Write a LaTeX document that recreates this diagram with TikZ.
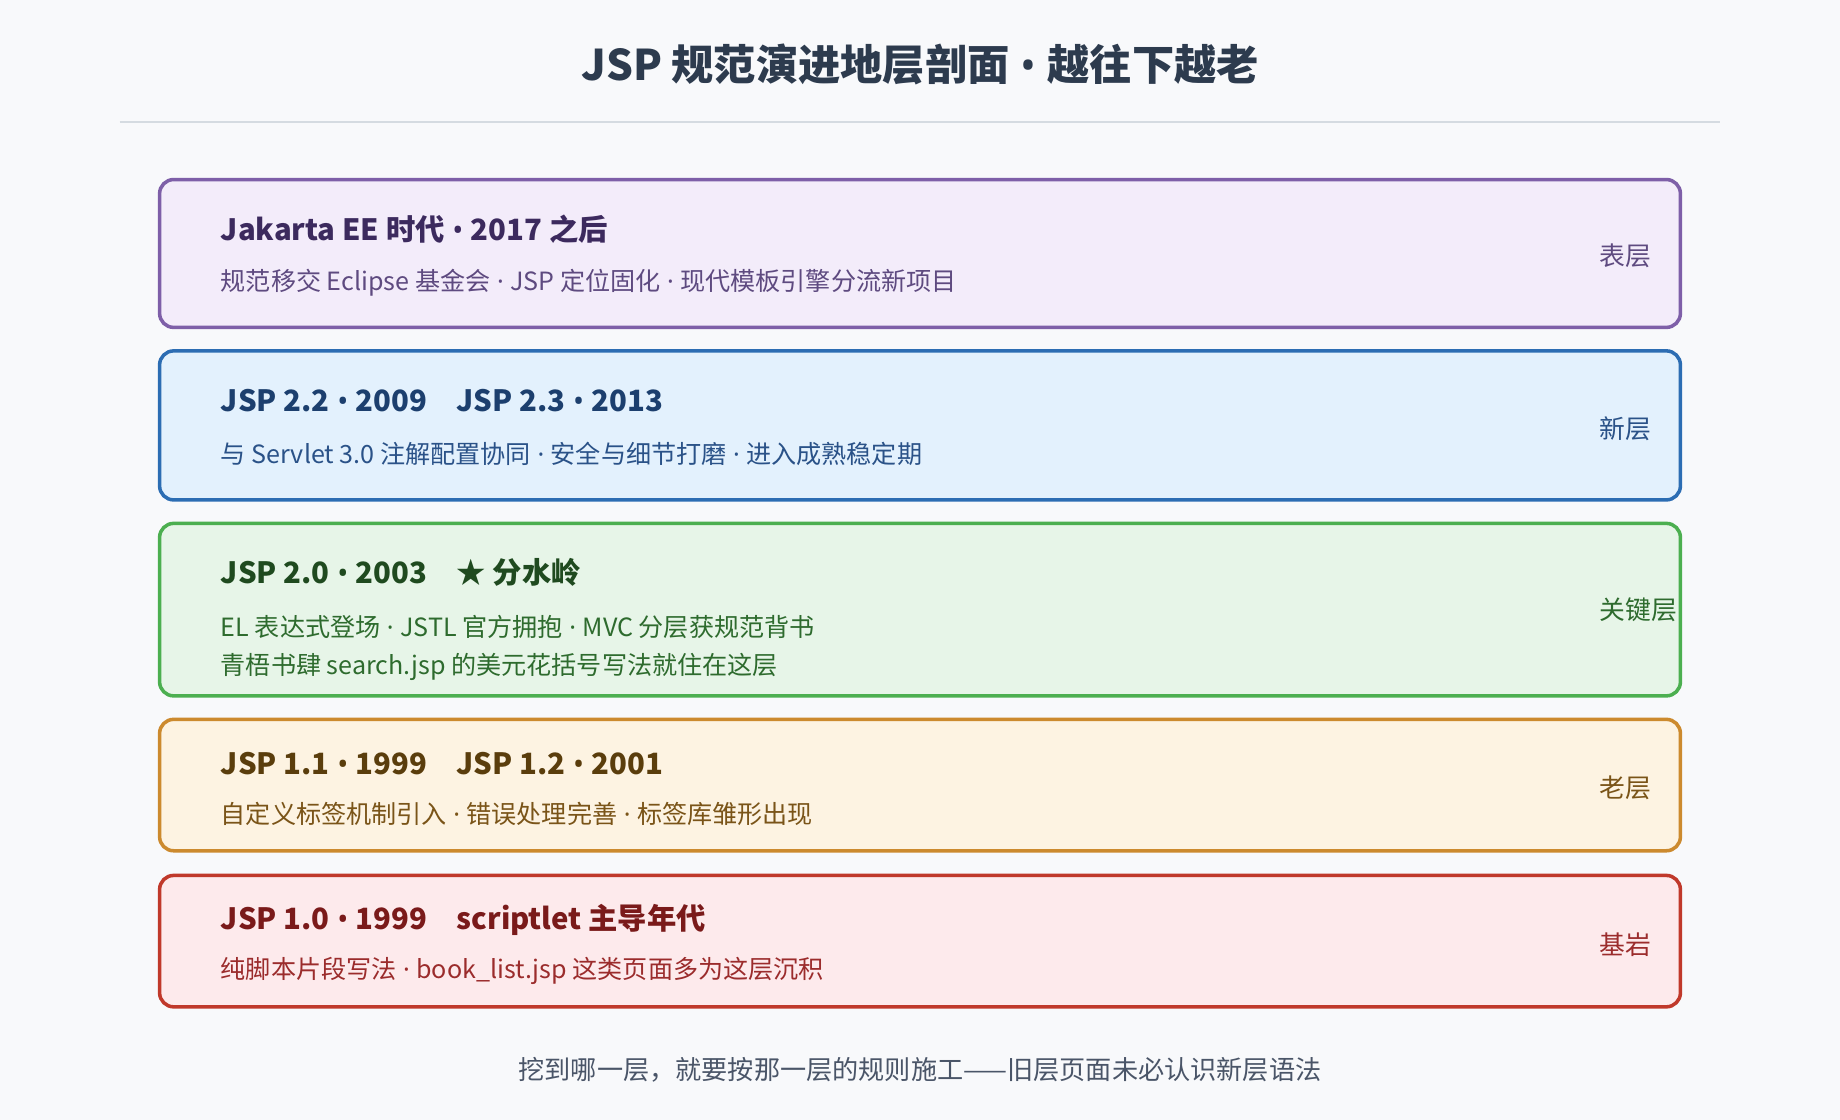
\documentclass[tikz,border=0pt]{standalone}
\usepackage{fontspec}
\setmainfont{Noto Sans CJK SC}
\newfontfamily\latn{Noto Sans}
\usepackage{xcolor}
\definecolor{PageBg}{HTML}{F8F9FB}
\definecolor{HeadText}{HTML}{2D3B4E}
\definecolor{RuleGray}{HTML}{D5DBE1}
\definecolor{MutedText}{HTML}{4A5568}
\definecolor{SurfBorder}{HTML}{7E5FA8}
\definecolor{SurfFill}{HTML}{F3ECFA}
\definecolor{SurfText}{HTML}{3C2A5E}
\definecolor{SurfSub}{HTML}{5E4A80}
\definecolor{NewBorder}{HTML}{2C6DB3}
\definecolor{NewFill}{HTML}{E3F1FD}
\definecolor{NewText}{HTML}{1C3F6E}
\definecolor{NewSub}{HTML}{2A5288}
\definecolor{KeyBorder}{HTML}{4CAF50}
\definecolor{KeyFill}{HTML}{E7F5E8}
\definecolor{KeyText}{HTML}{1F4A1F}
\definecolor{KeySub}{HTML}{2E6B2E}
\definecolor{OldBorder}{HTML}{CC8A2E}
\definecolor{OldFill}{HTML}{FDF3E2}
\definecolor{OldText}{HTML}{5A3D0C}
\definecolor{OldSub}{HTML}{7A5418}
\definecolor{RockBorder}{HTML}{C0392B}
\definecolor{RockFill}{HTML}{FDEAEC}
\definecolor{RockText}{HTML}{7A1A1A}
\definecolor{RockSub}{HTML}{9B2C2C}
\usetikzlibrary{positioning}
% schmale Trennzeichen aus der Lateinschrift
\newcommand{\mdot}{{\latn\ ·\ }}
\newcommand{\bdot}{{\latn\ •\ }}

\begin{document}
\begin{tikzpicture}[
  x=1pt, y=1pt,
  % Grundstile
  layer/.style={
    draw=#1Border,
    fill=#1Fill,
    line width=3pt,
    rounded corners=12pt,
    minimum width=1296pt,
    inner sep=0pt
  },
  layertitle/.style={
    anchor=west,
    font=\fontsize{25}{30}\selectfont\bfseries,
    color=#1Text,
    inner sep=0pt
  },
  layersub/.style={
    anchor=west,
    font=\fontsize{21.4}{26}\selectfont,
    color=#1Sub,
    inner sep=0pt
  },
  layertag/.style={
    anchor=west,
    font=\fontsize{22}{26}\selectfont,
    color=#1Sub,
    inner sep=0pt
  }
]

% =============================================================================
% HINTERGRUND
% =============================================================================
\fill[PageBg] (0,0) rectangle (1568,-954);
\useasboundingbox (0,0) rectangle (1568,-954);

% =============================================================================
% KOPF
% =============================================================================
\node[font=\fontsize{36}{42}\selectfont\bfseries, color=HeadText] (head) at (784,-55) {JSP 规范演进地层剖面\bdot 越往下越老};
\draw[RuleGray, line width=2pt] (102,-104) -- (1466,-104);

% =============================================================================
% SCHICHTEN (oben jung, unten alt)
% =============================================================================
% Oberflaeche
\node[layer=Surf, minimum height=126pt] (l1) at (784,-216) {};
\node[layertitle=Surf] (l1t) at (188,-195) {Jakarta EE 时代\bdot 2017 之后};
\node[layersub=Surf] (l1s) at (188,-241) {规范移交 Eclipse 基金会\mdot JSP 定位固化\mdot 现代模板引擎分流新项目};
\node[layertag=Surf] (l1g) at (1363,-218) {表层};

% neue Schicht
\node[layer=New, minimum height=127pt] (l2) at (784,-362.5) {};
\node[layertitle=New] (l2t) at (188,-341) {JSP 2.2\bdot 2009\quad JSP 2.3\bdot 2013};
\node[layersub=New] (l2s) at (188,-387) {与 Servlet 3.0 注解配置协同\mdot 安全与细节打磨\mdot 进入成熟稳定期};
\node[layertag=New] (l2g) at (1363,-365) {新层};

% Schluesselschicht
\node[layer=Key, minimum height=147pt] (l3) at (784,-519.5) {};
\node[layertitle=Key] (l3t) at (188,-488) {JSP 2.0\bdot 2003\quad ★ 分水岭};
\node[layersub=Key] (l3s) at (188,-534) {EL 表达式登场\mdot JSTL 官方拥抱\mdot MVC 分层获规范背书};
\node[layersub=Key] (l3r) at (188,-568) {青梧书肆 search.jsp 的美元花括号写法就住在这层};
\node[layertag=Key] (l3g) at (1363,-520) {关键层};

% alte Schicht
\node[layer=Old, minimum height=112pt] (l4) at (784,-669) {};
\node[layertitle=Old] (l4t) at (188,-651) {JSP 1.1\bdot 1999\quad JSP 1.2\bdot 2001};
\node[layersub=Old] (l4s) at (188,-694) {自定义标签机制引入\mdot 错误处理完善\mdot 标签库雏形出现};
\node[layertag=Old] (l4g) at (1363,-671) {老层};

% Grundgestein
\node[layer=Rock, minimum height=112pt] (l5) at (784,-802) {};
\node[layertitle=Rock] (l5t) at (188,-784) {JSP 1.0\bdot 1999\quad scriptlet 主导年代};
\node[layersub=Rock] (l5s) at (188,-827) {纯脚本片段写法\mdot book\_list.jsp 这类页面多为这层沉积};
\node[layertag=Rock] (l5g) at (1363,-805) {基岩};

% =============================================================================
% FUSSZEILE
% =============================================================================
\node[font=\fontsize{22.3}{26}\selectfont, color=MutedText] (foot) at (784,-912) {挖到哪一层，就要按那一层的规则施工——旧层页面未必认识新层语法};

\end{tikzpicture}
\end{document}
